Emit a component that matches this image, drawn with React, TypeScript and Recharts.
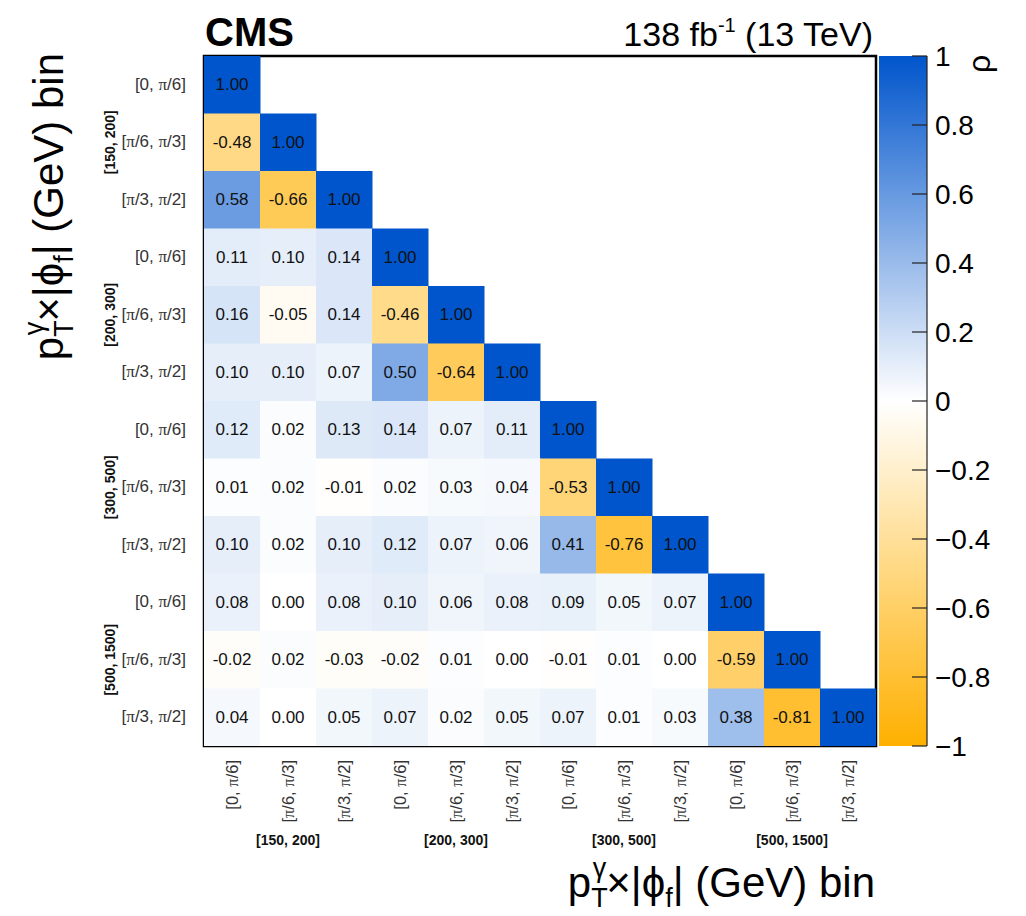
import React from 'react'
import {
  ScatterChart,
  Scatter,
  XAxis,
  YAxis,
  ReferenceArea,
  BarChart,
  Bar,
} from 'recharts'

const FONT = '"Liberation Sans", Arial, Helvetica, sans-serif'

const PT_BINS = ['[150, 200]', '[200, 300]', '[300, 500]', '[500, 1500]']
const PHI_BINS = ['[0, π/6]', '[π/6, π/3]', '[π/3, π/2]']

// lower triangle of the correlation matrix, row by row (top to bottom)
const CORR: number[][] = [
  [1.0],
  [-0.48, 1.0],
  [0.58, -0.66, 1.0],
  [0.11, 0.1, 0.14, 1.0],
  [0.16, -0.05, 0.14, -0.46, 1.0],
  [0.1, 0.1, 0.07, 0.5, -0.64, 1.0],
  [0.12, 0.02, 0.13, 0.14, 0.07, 0.11, 1.0],
  [0.01, 0.02, -0.01, 0.02, 0.03, 0.04, -0.53, 1.0],
  [0.1, 0.02, 0.1, 0.12, 0.07, 0.06, 0.41, -0.76, 1.0],
  [0.08, 0.0, 0.08, 0.1, 0.06, 0.08, 0.09, 0.05, 0.07, 1.0],
  [-0.02, 0.02, -0.03, -0.02, 0.01, 0.0, -0.01, 0.01, 0.0, -0.59, 1.0],
  [0.04, 0.0, 0.05, 0.07, 0.02, 0.05, 0.07, 0.01, 0.03, 0.38, -0.81, 1.0],
]

const CBAR_TICKS = [-1, -0.8, -0.6, -0.4, -0.2, 0, 0.2, 0.4, 0.6, 0.8, 1]

const N = CORR.length
const BIN_CENTERS = Array.from({ length: N }, (_, i) => i + 0.5)

const W = 1026
const H = 916
const PLOT = { left: 204, top: 56, right: 876, bottom: 746 }
const CELL_W = (PLOT.right - PLOT.left) / N
const CELL_H = (PLOT.bottom - PLOT.top) / N

const POS_END = [0, 85, 204]
const NEG_END = [255, 176, 0]

function rhoColor(v: number) {
  const t = Math.min(1, Math.abs(v))
  const end = v >= 0 ? POS_END : NEG_END
  const c = end.map((e) => Math.round(255 + (e - 255) * t))
  return `rgb(${c[0]},${c[1]},${c[2]})`
}

const cells = CORR.flatMap((row, i) =>
  row.map((v, j) => ({ x: j + 0.5, y: i + 0.5, v }))
)

function piText(label: string) {
  const parts = label.split('π')
  const out: React.ReactNode[] = []
  parts.forEach((p, k) => {
    if (k > 0)
      out.push(
        <tspan key={`pi${k}`} fontFamily='"Liberation Serif", serif'>
          π
        </tspan>
      )
    if (p) out.push(<tspan key={`t${k}`}>{p}</tspan>)
  })
  return out
}

function CellShape(props: any) {
  const { cx, cy, payload } = props
  return (
    <g>
      <rect
        x={cx - CELL_W / 2}
        y={cy - CELL_H / 2}
        width={CELL_W + 0.5}
        height={CELL_H + 0.5}
        fill={rhoColor(payload.v)}
      />
      <text
        x={cx}
        y={cy}
        textAnchor="middle"
        dominantBaseline="central"
        fontSize={17}
        fill="#111"
        fontFamily={FONT}
      >
        {payload.v.toFixed(2)}
      </text>
    </g>
  )
}

function XTick(props: any) {
  const { x, payload } = props
  const i = Math.round(payload.value - 0.5)
  return (
    <g>
      <text
        transform={`translate(${x + 6}, ${PLOT.bottom + 14}) rotate(-90)`}
        textAnchor="end"
        fontSize={16.5}
        fill="#333"
        fontFamily={FONT}
      >
        {piText(PHI_BINS[i % 3])}
      </text>
      {i % 3 === 1 && (
        <text
          x={x}
          y={PLOT.bottom + 99}
          textAnchor="middle"
          fontSize={14}
          fontWeight="bold"
          fill="#111"
          fontFamily={FONT}
        >
          {PT_BINS[(i - 1) / 3]}
        </text>
      )}
    </g>
  )
}

function YTick(props: any) {
  const { y, payload } = props
  const i = Math.round(payload.value - 0.5)
  return (
    <g>
      <text
        x={PLOT.left - 18}
        y={y + 5}
        textAnchor="end"
        fontSize={17}
        fill="#333"
        fontFamily={FONT}
      >
        {piText(PHI_BINS[i % 3])}
      </text>
      {i % 3 === 1 && (
        <text
          transform={`translate(115, ${y}) rotate(-90)`}
          textAnchor="middle"
          fontSize={14}
          fontWeight="bold"
          fill="#111"
          fontFamily={FONT}
        >
          {PT_BINS[(i - 1) / 3]}
        </text>
      )}
    </g>
  )
}

function AxisTitle({ transform }: { transform: string }) {
  return (
    <text transform={transform} textAnchor="end" fontSize={42} fill="#000" fontFamily={FONT}>
      <tspan>p</tspan>
      <tspan fontSize={27} dy={10}>T</tspan>
      <tspan fontSize={27} dx={-15} dy={-30}>γ</tspan>
      <tspan dy={20}>×|ϕ</tspan>
      <tspan fontSize={27} dy={10}>f</tspan>
      <tspan dy={-10}>| (GeV) bin</tspan>
    </text>
  )
}

// colour bar geometry (local to its own chart)
const CBAR_LEFT = PLOT.right
const CBAR_W = 150
const CBAR_EDGE = 51

function CbarTick(props: any) {
  const { y, payload } = props
  const v = payload.value as number
  const txt = v === 0 ? '0' : (v < 0 ? '−' : '') + String(Math.abs(v))
  return (
    <g>
      <line x1={CBAR_EDGE - 15} x2={CBAR_EDGE} y1={y} y2={y} stroke="#222" strokeWidth={1.2} />
      <text
        x={CBAR_EDGE + 8}
        y={y}
        dominantBaseline="central"
        fontSize={28}
        fill="#000"
        fontFamily={FONT}
      >
        {txt}
      </text>
    </g>
  )
}

export default function App() {
  return (
    <div style={{ position: 'absolute', left: 0, top: 0, width: W, height: H, fontFamily: FONT, background: '#fff' }}>
      <svg width={W} height={60} style={{ position: 'absolute', left: 0, top: 0 }}>
        <text x={PLOT.left + 1} y={46} fontSize={40} fontWeight="bold" fontFamily={FONT} fill="#000">
          CMS
        </text>
        <text x={PLOT.right - 3} y={46} textAnchor="end" fontSize={34} fontFamily={FONT} fill="#000">
          <tspan>138 fb</tspan>
          <tspan fontSize={20} dy={-14}>-1</tspan>
          <tspan dy={14}> (13 TeV)</tspan>
        </text>
      </svg>

      <div style={{ position: 'absolute', left: 0, top: 0 }}>
        <ScatterChart
          width={W}
          height={H}
          margin={{ top: PLOT.top, left: PLOT.left - 100, right: W - PLOT.right, bottom: H - PLOT.bottom - 100 }}
        >
          <XAxis
            type="number"
            dataKey="x"
            domain={[0, N]}
            ticks={BIN_CENTERS}
            interval={0}
            height={100}
            axisLine={false}
            tickLine={false}
            tick={(p: any) => <XTick {...p} />}
            allowDataOverflow
            label={{
              content: () => <AxisTitle transform={`translate(${PLOT.right - 1}, 897)`} />,
            }}
          />
          <YAxis
            type="number"
            dataKey="y"
            domain={[0, N]}
            reversed
            ticks={BIN_CENTERS}
            interval={0}
            width={100}
            axisLine={false}
            tickLine={false}
            tick={(p: any) => <YTick {...p} />}
            allowDataOverflow
            label={{
              content: () => <AxisTitle transform={`translate(63, 53) rotate(-90)`} />,
            }}
          />
          <Scatter data={cells} shape={(p: any) => <CellShape {...p} />} isAnimationActive={false} />
          <ReferenceArea
            x1={0}
            x2={N}
            y1={0}
            y2={N}
            fill="none"
            fillOpacity={0}
            stroke="#000"
            strokeWidth={2.5}
            ifOverflow="visible"
          />
        </ScatterChart>
      </div>

      <div style={{ position: 'absolute', left: CBAR_LEFT, top: 0 }}>
        <BarChart
          width={CBAR_W}
          height={H}
          data={[{ name: 'rho', span: [-1, 1] }]}
          margin={{ top: PLOT.top, bottom: H - PLOT.bottom, left: 3, right: 0 }}
          barCategoryGap={0}
          barGap={0}
        >
          <defs>
            <linearGradient id="rhoGrad" x1="0" y1="0" x2="0" y2="1">
              <stop offset="0%" stopColor={rhoColor(1)} />
              <stop offset="50%" stopColor="#ffffff" />
              <stop offset="100%" stopColor={rhoColor(-1)} />
            </linearGradient>
          </defs>
          <XAxis dataKey="name" hide />
          <YAxis
            orientation="right"
            domain={[-1, 1]}
            ticks={CBAR_TICKS}
            interval={0}
            width={99}
            axisLine={{ stroke: '#222', strokeWidth: 1.2 }}
            tickLine={false}
            tick={(p: any) => <CbarTick {...p} />}
            label={{
              content: () => (
                <text
                  transform="translate(114, 64) rotate(-90)"
                  textAnchor="middle"
                  fontSize={32}
                  fontFamily={FONT}
                  fill="#000"
                >
                  ρ
                </text>
              ),
            }}
          />
          <Bar dataKey="span" fill="url(#rhoGrad)" isAnimationActive={false} />
        </BarChart>
      </div>
    </div>
  )
}
